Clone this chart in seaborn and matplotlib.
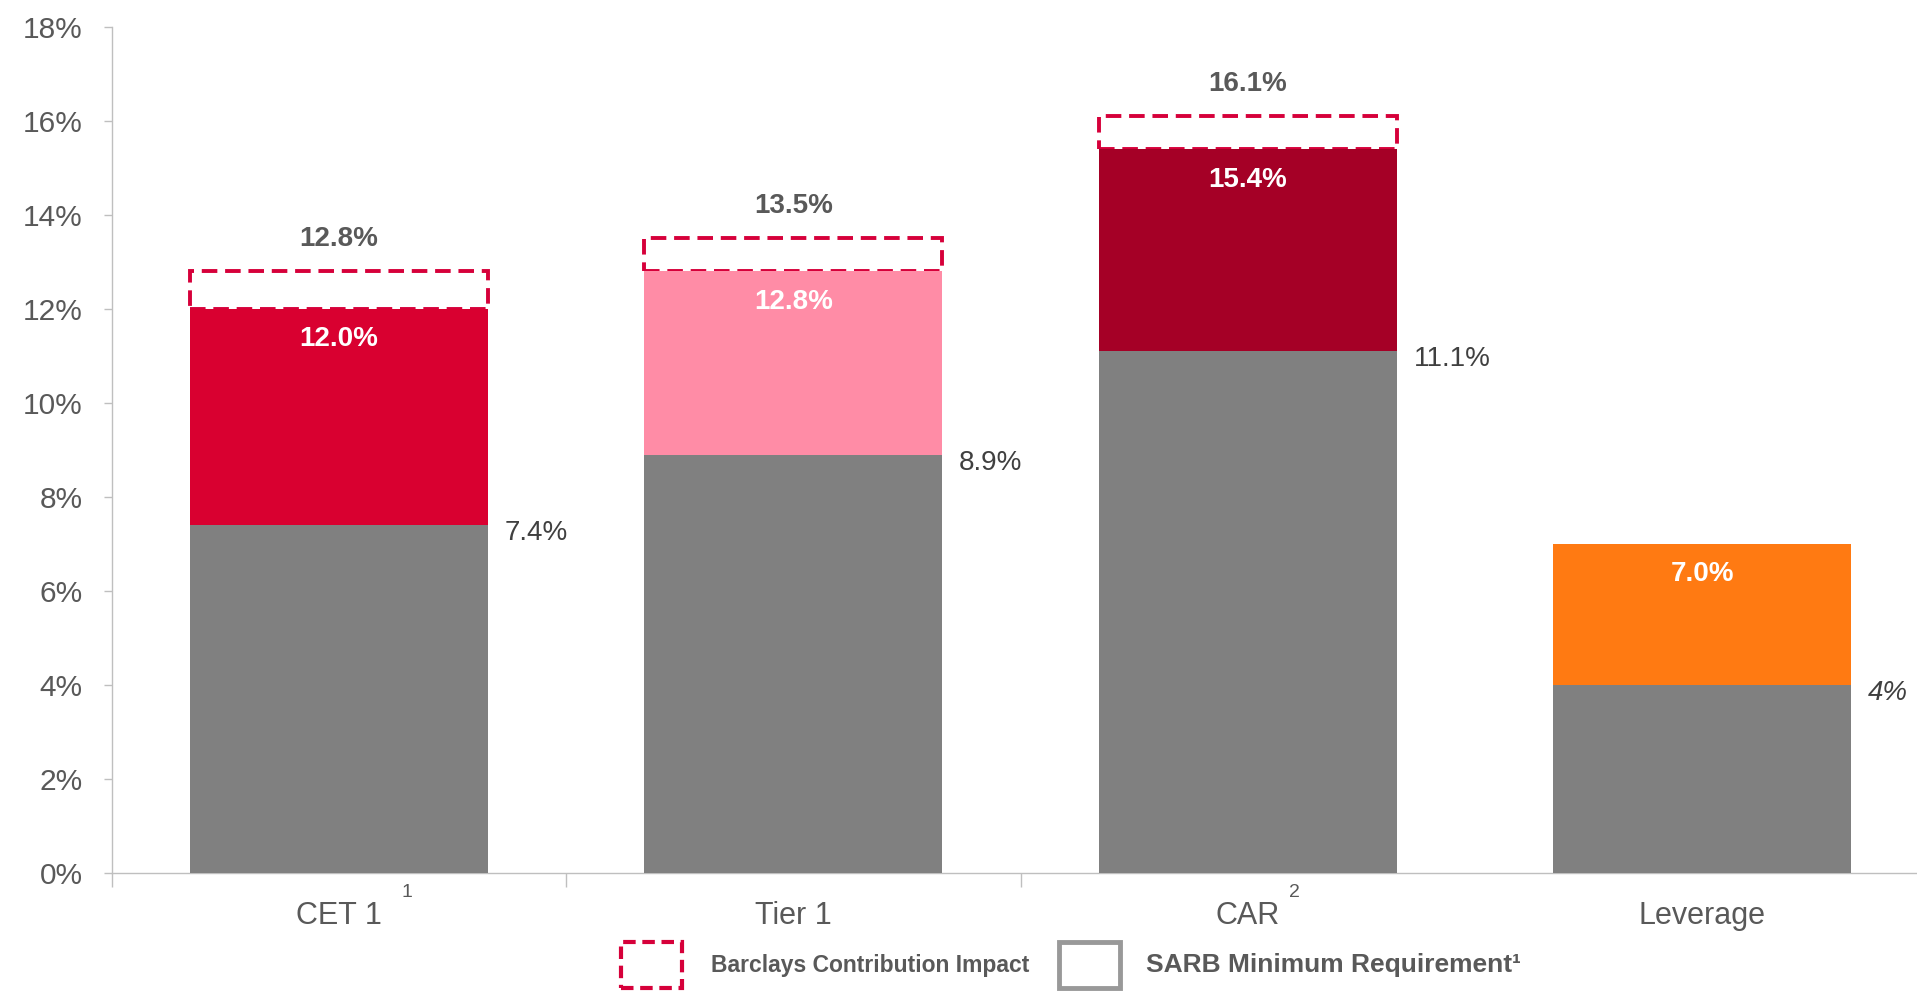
import numpy as np
import pandas as pd
import matplotlib
matplotlib.use("Agg")
import matplotlib.pyplot as plt
from matplotlib.patches import Rectangle
from matplotlib.ticker import FixedLocator
import seaborn as sns

# Capital adequacy ratios (%) against SARB minimum requirements
categories = ["CET 1", "Tier 1", "CAR", "Leverage"]
footnotes = ["1", "", "2", ""]
sarb_minimum = [7.4, 8.9, 11.1, 4.0]
sarb_labels = ["7.4%", "8.9%", "11.1%", "4%"]
actual_ratio = [12.0, 12.8, 15.4, 7.0]
with_contribution = [12.8, 13.5, 16.1, np.nan]
bar_colors = ["#D90030", "#FF8CA6", "#A50026", "#FF7A12"]
ytick_values = list(range(0, 19, 2))

GREY = "#808080"
DASH_RED = "#D6003A"
TEXT = "#595959"
AXIS = "#BFBFBF"
WIDTH = 0.656

sns.set_theme(style="white")
plt.rcParams["font.family"] = ["Liberation Sans", "DejaVu Sans"]

df = pd.DataFrame({
    "category": categories,
    "minimum": sarb_minimum,
    "actual": actual_ratio,
    "contribution": with_contribution,
})

fig = plt.figure(figsize=(19.17, 9.92), dpi=100)
ax = fig.add_axes([0.0584, 0.12, 0.948, 0.853])

# Reported ratio bars, then the SARB minimum in grey over them
sns.barplot(data=df, x="category", y="actual", hue="category", order=categories,
            palette=bar_colors, legend=False, width=WIDTH, errorbar=None,
            linewidth=0, saturation=1, ax=ax, zorder=2)
sns.barplot(data=df, x="category", y="minimum", order=categories, color=GREY,
            width=WIDTH, errorbar=None, linewidth=0, saturation=1, ax=ax, zorder=3)

# Dashed boxes for the uplift from the Barclays contribution
pos = np.arange(len(categories))
uplift = df["contribution"] - df["actual"]
ax.bar(pos, uplift, bottom=df["actual"], width=WIDTH, fill=False,
       edgecolor=DASH_RED, linewidth=2.8, linestyle=(0, (4, 2)), zorder=1)

# Value labels
for i, row in df.iterrows():
    if not np.isnan(row["contribution"]):
        ax.annotate(f"{row['contribution']:.1f}%", (i, row["contribution"]), xytext=(0, 23),
                    textcoords="offset points", ha="center", va="center",
                    fontsize=20, fontweight="bold", color=TEXT)
    ax.annotate(f"{row['actual']:.1f}%", (i, row["actual"]), xytext=(0, -22),
                textcoords="offset points", ha="center", va="center",
                fontsize=20, fontweight="bold", color="white", zorder=5)
    ax.annotate(sarb_labels[i], (i + WIDTH / 2, row["minimum"]), xytext=(12, -6),
                textcoords="offset points", ha="left", va="center", fontsize=20,
                color="#404040", style="italic" if i == 3 else "normal",
                annotation_clip=False)

# Axes styling
ax.set_xlim(-0.5, 3.5)
ax.set_ylim(0, 18)
ax.set_xlabel("")
ax.set_ylabel("")
ax.set_yticks(ytick_values)
ax.set_yticklabels([f"{v}%" for v in ytick_values])
ax.set_xticks(pos)
ax.set_xticklabels(categories)
ax.xaxis.set_minor_locator(FixedLocator(pos[:-1] - 0.5))
ax.tick_params(axis="y", left=True, length=6, width=1, color=AXIS, direction="out",
               labelsize=21.5, labelcolor=TEXT, pad=15)
ax.tick_params(axis="x", which="major", bottom=False, labelsize=22, labelcolor=TEXT, pad=14)
ax.tick_params(axis="x", which="minor", bottom=True, length=10, width=1, color=AXIS,
               direction="out")
for side in ("top", "right"):
    ax.spines[side].set_visible(False)
for side in ("left", "bottom"):
    ax.spines[side].set_color(AXIS)
    ax.spines[side].set_linewidth(1)
ax.grid(False)

# Footnote markers on the category labels
trans = ax.get_xaxis_transform()
note_offsets = [0.149, 0.0, 0.103, 0.0]
for i, mark in enumerate(footnotes):
    if mark:
        ax.text(i + note_offsets[i], -0.023, mark, transform=trans, ha="center",
                va="center", fontsize=14, color=TEXT, clip_on=False)

# Legend
fig.patches.append(Rectangle((0.3240, 0.004), 0.032, 0.046, transform=fig.transFigure,
                             fill=False, edgecolor=DASH_RED, linewidth=3,
                             linestyle=(0, (3, 1.6))))
fig.text(0.3709, 0.027, "Barclays Contribution Impact", ha="left", va="center",
         fontsize=16.5, fontweight="bold", color=TEXT)
fig.patches.append(Rectangle((0.5525, 0.004), 0.032, 0.046, transform=fig.transFigure,
                             fill=False, edgecolor="#999999", linewidth=3.5))
fig.text(0.5978, 0.027, "SARB Minimum Requirement\u00b9", ha="left", va="center",
         fontsize=19, fontweight="bold", color=TEXT)

fig.savefig("out.png", dpi=100)
